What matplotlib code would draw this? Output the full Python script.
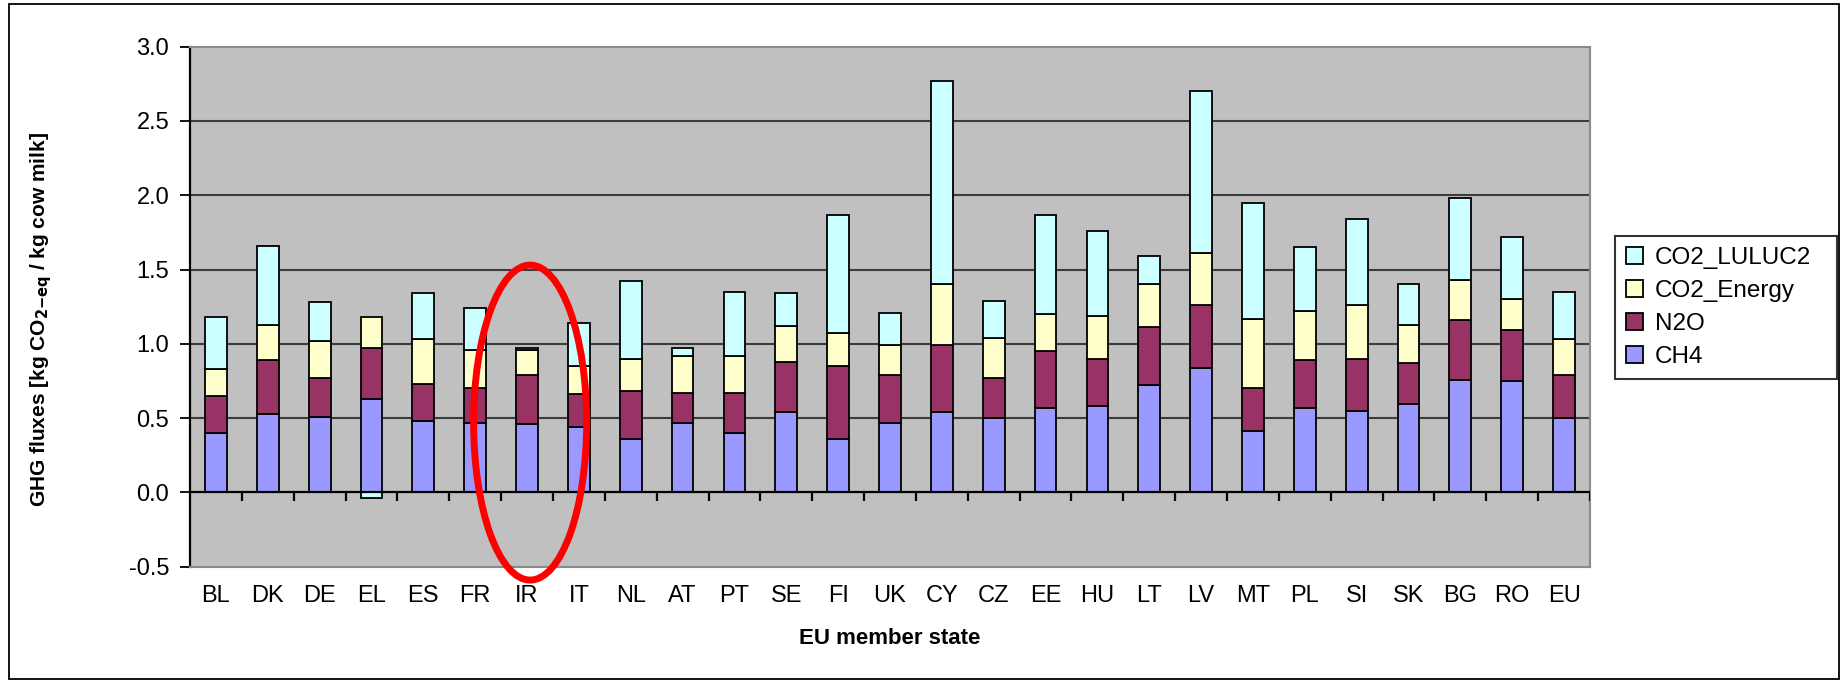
import numpy as np
import matplotlib
matplotlib.use("Agg")
import matplotlib.pyplot as plt
from matplotlib.patches import Ellipse, Rectangle

plt.rcParams['font.family'] = ['Liberation Sans', 'DejaVu Sans']
plt.rcParams['axes.unicode_minus'] = False
plt.rcParams['mathtext.default'] = 'regular'

countries = ["BL", "DK", "DE", "EL", "ES", "FR", "IR", "IT", "NL", "AT", "PT", "SE", "FI", "UK",
             "CY", "CZ", "EE", "HU", "LT", "LV", "MT", "PL", "SI", "SK", "BG", "RO", "EU"]

# stacked component values (kg CO2-eq / kg milk)
ch4 = [0.40, 0.53, 0.51, 0.63, 0.48, 0.47, 0.46, 0.44, 0.36, 0.47, 0.40, 0.54, 0.36, 0.47,
       0.54, 0.50, 0.57, 0.585, 0.72, 0.84, 0.415, 0.565, 0.545, 0.595, 0.76, 0.75, 0.50]
n2o = [0.25, 0.36, 0.26, 0.34, 0.25, 0.23, 0.33, 0.22, 0.32, 0.20, 0.27, 0.34, 0.49, 0.32,
       0.45, 0.27, 0.38, 0.315, 0.395, 0.42, 0.285, 0.325, 0.355, 0.275, 0.40, 0.34, 0.29]
co2_energy = [0.18, 0.24, 0.25, 0.21, 0.30, 0.26, 0.17, 0.19, 0.22, 0.25, 0.25, 0.24, 0.22, 0.20,
              0.41, 0.27, 0.25, 0.29, 0.285, 0.35, 0.47, 0.33, 0.36, 0.26, 0.27, 0.21, 0.24]
co2_luluc2 = [0.35, 0.53, 0.26, -0.04, 0.31, 0.28, 0.015, 0.29, 0.52, 0.055, 0.43, 0.22, 0.80, 0.22,
              1.37, 0.25, 0.67, 0.57, 0.19, 1.09, 0.78, 0.43, 0.58, 0.27, 0.55, 0.42, 0.32]

series = [("CH4", ch4, "#9999FF"),
          ("N2O", n2o, "#993366"),
          ("CO2_Energy", co2_energy, "#FFFFCC"),
          ("CO2_LULUC2", co2_luluc2, "#CCFFFF")]

yticks = [-0.5, 0.0, 0.5, 1.0, 1.5, 2.0, 2.5, 3.0]

# highlight ellipse around IR (annotation)
HL_CENTER = (6.06, 0.47)
HL_WIDTH, HL_HEIGHT = 2.18, 2.12

fig = plt.figure(figsize=(18.49, 6.8), dpi=100)
ax = fig.add_axes([190/1849, 1-566.7/680, 1400/1849, 520/680])
ax.set_facecolor("#C0C0C0")

x = np.arange(len(countries))
pos_bottom = np.zeros(len(countries))
neg_bottom = np.zeros(len(countries))
handles = []
for name, vals, col in series:
    v = np.array(vals, dtype=float)
    bottom = np.where(v >= 0, pos_bottom, neg_bottom)
    b = ax.bar(x, v, width=0.42, bottom=bottom, color=col, edgecolor="black",
               linewidth=1.3, label=name, zorder=3)
    handles.append(b)
    pos_bottom = pos_bottom + np.where(v >= 0, v, 0)
    neg_bottom = neg_bottom + np.where(v < 0, v, 0)

ax.set_xlim(-0.5, len(countries) - 0.5)
ax.set_ylim(-0.5, 3.0)
ax.set_yticks(yticks)
ax.set_yticklabels([f"{t:.1f}" for t in yticks], fontsize=17)
ax.tick_params(axis='y', length=7, width=1.3, pad=8, color="black")
ax.set_xticks(x)
ax.set_xticklabels(countries, fontsize=17)
ax.tick_params(axis='x', length=0, pad=13)

for t in yticks[1:-1]:
    if t != 0.0:
        ax.axhline(t, color="#3c3c3c", lw=1.5, zorder=1)
ax.axhline(0, color="black", lw=1.6, zorder=4)
ax.vlines(x + 0.5, -0.055, 0, color="black", lw=1.6, zorder=4)

for s in ["top", "right", "bottom"]:
    ax.spines[s].set_color("#8a8a8a")
    ax.spines[s].set_linewidth(1.5)
ax.spines["left"].set_color("black")
ax.spines["left"].set_linewidth(1.6)

ax.set_xlabel("EU member state", fontsize=16, fontweight="bold")
ax.xaxis.set_label_coords(0.5, -0.118)
ax.set_ylabel(r"GHG fluxes [kg CO$_{\mathbf{2\mathbf{-}eq}}$ / kg cow milk]",
              fontsize=15, fontweight="bold")
ax.yaxis.set_label_coords(-0.097, 0.475)

ell = Ellipse(HL_CENTER, HL_WIDTH, HL_HEIGHT, fill=False, edgecolor="#FF0000",
              lw=5, zorder=6, clip_on=False)
ax.add_patch(ell)

leg = fig.legend(handles[::-1], [s[0] for s in series][::-1],
                 loc="upper left",
                 bbox_to_anchor=(1615/1849, 1-236/680, 222/1849, 0),
                 mode="expand", fontsize=17.5, frameon=True, fancybox=False,
                 handlelength=0.7, handleheight=0.7, handletextpad=0.5,
                 labelspacing=0.45, borderpad=0.45, borderaxespad=0)
leg.get_frame().set_edgecolor("black")
leg.get_frame().set_linewidth(1.5)

fig.patches.append(Rectangle((9/1849, 1/680), 1-10/1849 - 9/1849, 1-4/680 - 1/680,
                             transform=fig.transFigure, fill=False,
                             edgecolor="black", lw=1.3))

fig.savefig("out.png", dpi=100, facecolor="white")
